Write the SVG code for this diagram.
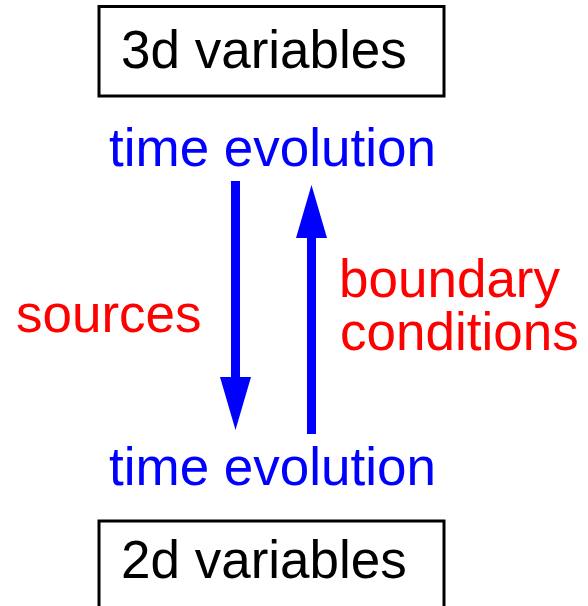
<svg xmlns="http://www.w3.org/2000/svg" width="588" height="606" viewBox="0 0 588 606">
<defs>
<style>
.box{fill:#fff;stroke:#000;stroke-width:3}
.lbl{font-family:"Liberation Sans",Arial,sans-serif;font-size:53px}
.k{fill:#000}
.b{fill:#0000ff}
.r{fill:#ff0000}
.arr{stroke:#0000ff;stroke-width:9;fill:none;marker-end:url(#ah)}
</style>
<marker id="ah" viewBox="0 0 53 31" markerWidth="53" markerHeight="31" markerUnits="userSpaceOnUse" refX="0" refY="15.5" orient="auto">
<path d="M0,0 L53,15.5 L0,31 z" fill="#0000ff"/>
</marker>
</defs>
<rect width="588" height="606" fill="#fff"/>
<g id="node-3d">
<rect class="box" x="99" y="6.5" width="345" height="89.5"/>
<text class="lbl k" x="121" y="68">3d variables</text>
</g>
<g id="node-time-top">
<text class="lbl b" x="109" y="166">time evolution</text>
</g>
<g id="node-time-bottom">
<text class="lbl b" x="109" y="485">time evolution</text>
</g>
<g id="node-2d">
<rect class="box" x="99" y="521" width="345" height="100"/>
<text class="lbl k" x="121" y="578">2d variables</text>
</g>
<g id="connectors">
<line class="arr" x1="235.5" y1="181" x2="235.5" y2="377"/>
<line class="arr" x1="311.5" y1="434" x2="311.5" y2="238"/>
</g>
<g id="labels">
<text class="lbl r" x="16" y="332">sources</text>
<text class="lbl r" x="339" y="297">boundary</text>
<text class="lbl r" x="340" y="350">conditions</text>
</g>
</svg>
